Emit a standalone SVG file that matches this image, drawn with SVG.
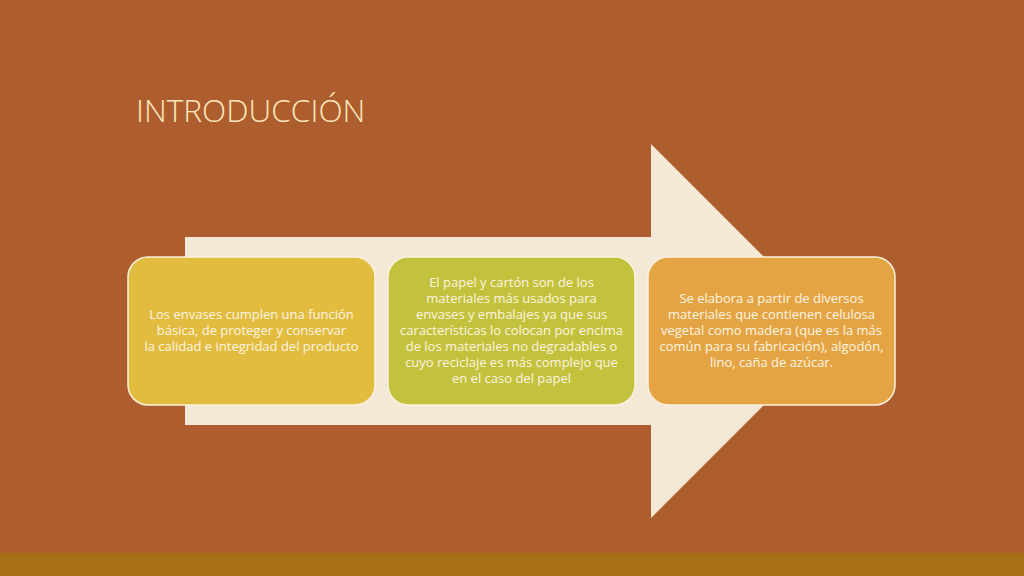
<svg xmlns="http://www.w3.org/2000/svg" width="1024" height="576" viewBox="0 0 1024 576">
<style>
.card{stroke:#FAF1DE;stroke-width:1.5}
.t{font-family:"Open Sans","Liberation Sans",sans-serif;font-size:13px;fill:#FDF4E2;text-anchor:middle}
.title{font-family:"Open Sans","Liberation Sans",sans-serif;font-weight:300;font-size:31.6px;fill:#FBE7BC}
</style>
<rect width="1024" height="576" fill="#AE5E2E"/>
<rect y="553" width="1024" height="23" fill="#A87016"/>
<text class="title" x="136" y="122">INTRODUCCIÓN</text>
<g id="arrow">
<polygon points="185,237 651,237 651,144 838,331 651,518 651,425 185,425" fill="#F4E9D6"/>
</g>
<g id="connectors"></g>
<g id="node1">
<rect class="card" x="128" y="257" width="247" height="148" rx="20" fill="#E2BC3F"/>
<text class="t" x="251.5" y="318.5">Los envases cumplen una función</text>
<text class="t" x="251.5" y="334.5">básica, de proteger y conservar</text>
<text class="t" x="251.5" y="350.5">la calidad e integridad del producto</text>
</g>
<g id="node2">
<rect class="card" x="388" y="257" width="247" height="148" rx="20" fill="#C3C23C"/>
<text class="t" x="511.5" y="286.5">El papel y cartón son de los</text>
<text class="t" x="511.5" y="302.5">materiales más usados para</text>
<text class="t" x="511.5" y="318.5">envases y embalajes ya que sus</text>
<text class="t" x="511.5" y="334.5">características lo colocan por encima</text>
<text class="t" x="511.5" y="350.5">de los materiales no degradables o</text>
<text class="t" x="511.5" y="366.5">cuyo reciclaje es más complejo que</text>
<text class="t" x="511.5" y="383">en el caso del papel</text>
</g>
<g id="node3">
<rect class="card" x="648" y="257" width="247" height="148" rx="20" fill="#E4A444"/>
<text class="t" x="771.5" y="302.5">Se elabora a partir de diversos</text>
<text class="t" x="771.5" y="318.5">materiales que contienen celulosa</text>
<text class="t" x="771.5" y="334.5">vegetal como madera (que es la más</text>
<text class="t" x="771.5" y="350.5">común para su fabricación), algodón,</text>
<text class="t" x="771.5" y="367">lino, caña de azúcar.</text>
</g>
</svg>
